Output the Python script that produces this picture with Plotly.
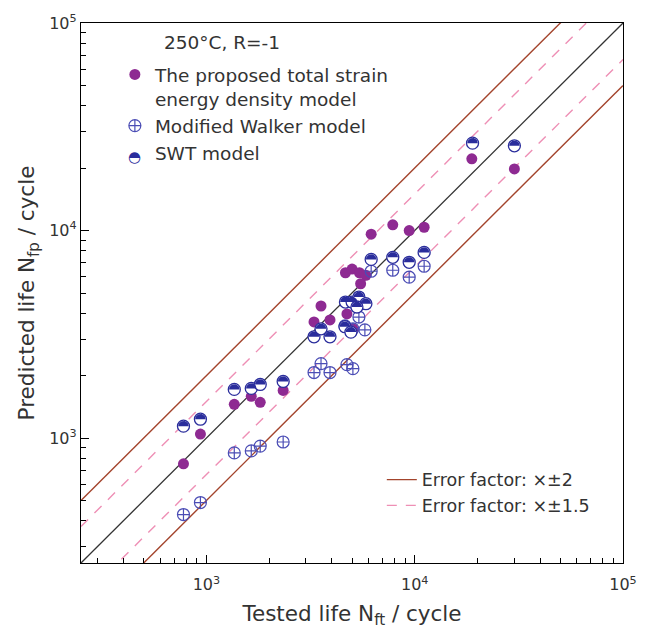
import numpy as np
import plotly.graph_objects as go

# ---------------- data ----------------
tested_proposed = [776, 936, 1361, 1642, 1813, 2336, 3286, 3550, 3920, 4727, 5050,
                   4650, 5005, 5430, 5830, 5500, 6180, 7846, 9410, 11100, 18800, 30100]
pred_proposed = [751, 1045, 1454, 1588, 1487, 1697, 3629, 4329, 3710, 3963, 3360,
                 6260, 6520, 6260, 6080, 5540, 9600, 10650, 9990, 10370, 22150, 19800]

tested_mw = [776, 936, 1361, 1642, 1813, 2336, 3286, 3550, 3920, 4727, 5050,
             4626, 5050, 5396, 5765, 6180, 7846, 9410, 11100]
pred_mw = [428, 489, 848, 867, 915, 957, 2069, 2285, 2069, 2259, 2160,
           3473, 3360, 3830, 3322, 6365, 6436, 5958, 6726]

tested_swt = [776, 936, 1361, 1642, 1813, 2336, 3286, 3550, 3920, 4650, 5005, 5396,
              5830, 5280, 4626, 4940, 6180, 7846, 9410, 11100, 18950, 30100]
pred_swt = [1141, 1233, 1716, 1735, 1813, 1874, 3076, 3360, 3076, 4523, 4523, 4780,
            4440, 4280, 3440, 3240, 7260, 7428, 7028, 7846, 26370, 25600]

ref_x = [250, 100000]
factor_2 = 2.0
factor_15 = 1.5

major_ticks = [1e3, 1e4, 1e5]
major_text = ["10<sup>3</sup>", "10<sup>4</sup>", "10<sup>5</sup>"]
minor_digits = [2, 3, 4, 5, 6, 7, 8, 9]
minor_decades = [100, 1000, 10000]

# ---------------- style / geometry ----------------
PURPLE = "#8E2A92"
MW_BLUE = "#4B4DB5"
SWT_BLUE = "#2A2D9C"
BROWN = "#A3442C"
PINK = "#EE8FB5"
TXT = "#333333"
FONT = "DejaVu Sans, Liberation Sans, Arial, sans-serif"

W, H = 649, 633
ML, MR, MT, MB = 81, 24, 19, 70
LOG_MIN, LOG_MAX = np.log10(250), 5.0
px_per_decade = (W - ML - MR) / (LOG_MAX - LOG_MIN)

minor_vals = [d * m for m in minor_decades for d in minor_digits if 250 <= d * m <= 1e5]
rx = np.array(ref_x, dtype=float)

# upper-half fill polygons for the SWT markers (radius in pixels -> decades)
half_r = 5.3 / px_per_decade
theta = np.linspace(0, np.pi, 24)
hx, hy = [], []
for xv, yv in zip(tested_swt, pred_swt):
    lx, ly = np.log10(xv), np.log10(yv)
    hx += list(10 ** (lx + half_r * np.cos(theta))) + [None]
    hy += list(10 ** (ly + half_r * np.sin(theta))) + [None]

fig = go.Figure()

# reference lines
fig.add_trace(go.Scatter(x=rx, y=rx, mode="lines", line=dict(color="#333333", width=1.3),
                         showlegend=False, hoverinfo="skip"))
fig.add_trace(go.Scatter(x=rx, y=rx * factor_2, mode="lines", line=dict(color=BROWN, width=1.4),
                         name="Error factor: \u00d7\u00b12", legend="legend2"))
fig.add_trace(go.Scatter(x=rx, y=rx / factor_2, mode="lines", line=dict(color=BROWN, width=1.4),
                         showlegend=False, hoverinfo="skip"))
fig.add_trace(go.Scatter(x=rx, y=rx * factor_15, mode="lines",
                         line=dict(color=PINK, width=1.4, dash="10px,9px"),
                         name="Error factor: \u00d7\u00b11.5", legend="legend2"))
fig.add_trace(go.Scatter(x=rx, y=rx / factor_15, mode="lines",
                         line=dict(color=PINK, width=1.4, dash="10px,9px"),
                         showlegend=False, hoverinfo="skip"))

# data
fig.add_trace(go.Scatter(x=tested_proposed, y=pred_proposed, mode="markers",
                         marker=dict(symbol="circle", size=11, color=PURPLE),
                         name="The proposed total strain<br>energy density model"))
fig.add_trace(go.Scatter(x=tested_mw, y=pred_mw, mode="markers",
                         marker=dict(symbol="circle-cross-open", size=12, color=MW_BLUE,
                                     line=dict(width=1.2, color=MW_BLUE)),
                         name="Modified Walker model"))
fig.add_trace(go.Scatter(x=tested_swt, y=pred_swt, mode="markers",
                         marker=dict(symbol="circle", size=12, color="white",
                                     line=dict(width=1.3, color=SWT_BLUE)),
                         showlegend=False, hoverinfo="skip"))
fig.add_trace(go.Scatter(x=hx, y=hy, mode="lines", fill="toself", fillcolor=SWT_BLUE,
                         line=dict(width=0, color=SWT_BLUE), connectgaps=False,
                         showlegend=False, hoverinfo="skip"))
# legend-only entry for SWT (symbol drawn by the annotation glyph below)
fig.add_trace(go.Scatter(x=[None], y=[None], mode="markers",
                         marker=dict(symbol="circle", size=12, color="rgba(0,0,0,0)",
                                     line=dict(width=0)),
                         name="SWT model"))

axis_common = dict(
    type="log", showgrid=False, zeroline=False,
    showline=True, linecolor="black", linewidth=1.3, mirror=True,
    ticks="inside", ticklen=8, tickwidth=1.2, tickcolor="black",
    tickmode="array", tickvals=major_ticks, ticktext=major_text,
    tickfont=dict(family=FONT, size=16, color=TXT),
    minor=dict(tickmode="array", tickvals=minor_vals, ticks="inside", ticklen=5,
               tickwidth=1, tickcolor="black", showgrid=False),
    range=[LOG_MIN, LOG_MAX],
)

fig.update_layout(
    width=W, height=H,
    margin=dict(l=ML, r=MR, t=MT, b=MB),
    paper_bgcolor="white", plot_bgcolor="white",
    font=dict(family=FONT, size=18, color=TXT),
    xaxis=dict(**axis_common, ticklabelstandoff=7,
               title=dict(text="Tested life N<sub>ft</sub> / cycle",
                          font=dict(size=21.5, color=TXT), standoff=12)),
    yaxis=dict(**axis_common,
               title=dict(text="Predicted life N<sub>fp</sub> / cycle",
                          font=dict(size=21.5, color=TXT), standoff=8)),
    legend=dict(x=0.0625, y=0.939, xanchor="left", yanchor="top", bgcolor="rgba(0,0,0,0)",
                font=dict(family=FONT, size=18.5, color=TXT), valign="top",
                tracegroupgap=0, itemclick=False),
    legend2=dict(x=0.555, y=0.1875, xanchor="left", yanchor="top", bgcolor="rgba(0,0,0,0)",
                 font=dict(family=FONT, size=17.5, color=TXT)),
    annotations=[
        dict(text="250\u00b0C, R=-1", xref="paper", yref="paper", x=0.149, y=0.964,
             xanchor="left", yanchor="middle", showarrow=False,
             font=dict(family=FONT, size=18.5, color=TXT)),
        dict(text="\u25d3", xref="paper", yref="paper", x=(135 - ML) / (W - ML - MR),
             y=1 - (154 - MT) / (H - MT - MB), xanchor="center", yanchor="middle",
             showarrow=False, font=dict(family="DejaVu Sans", size=15, color=SWT_BLUE)),
    ],
)

fig.write_html("out.html")
